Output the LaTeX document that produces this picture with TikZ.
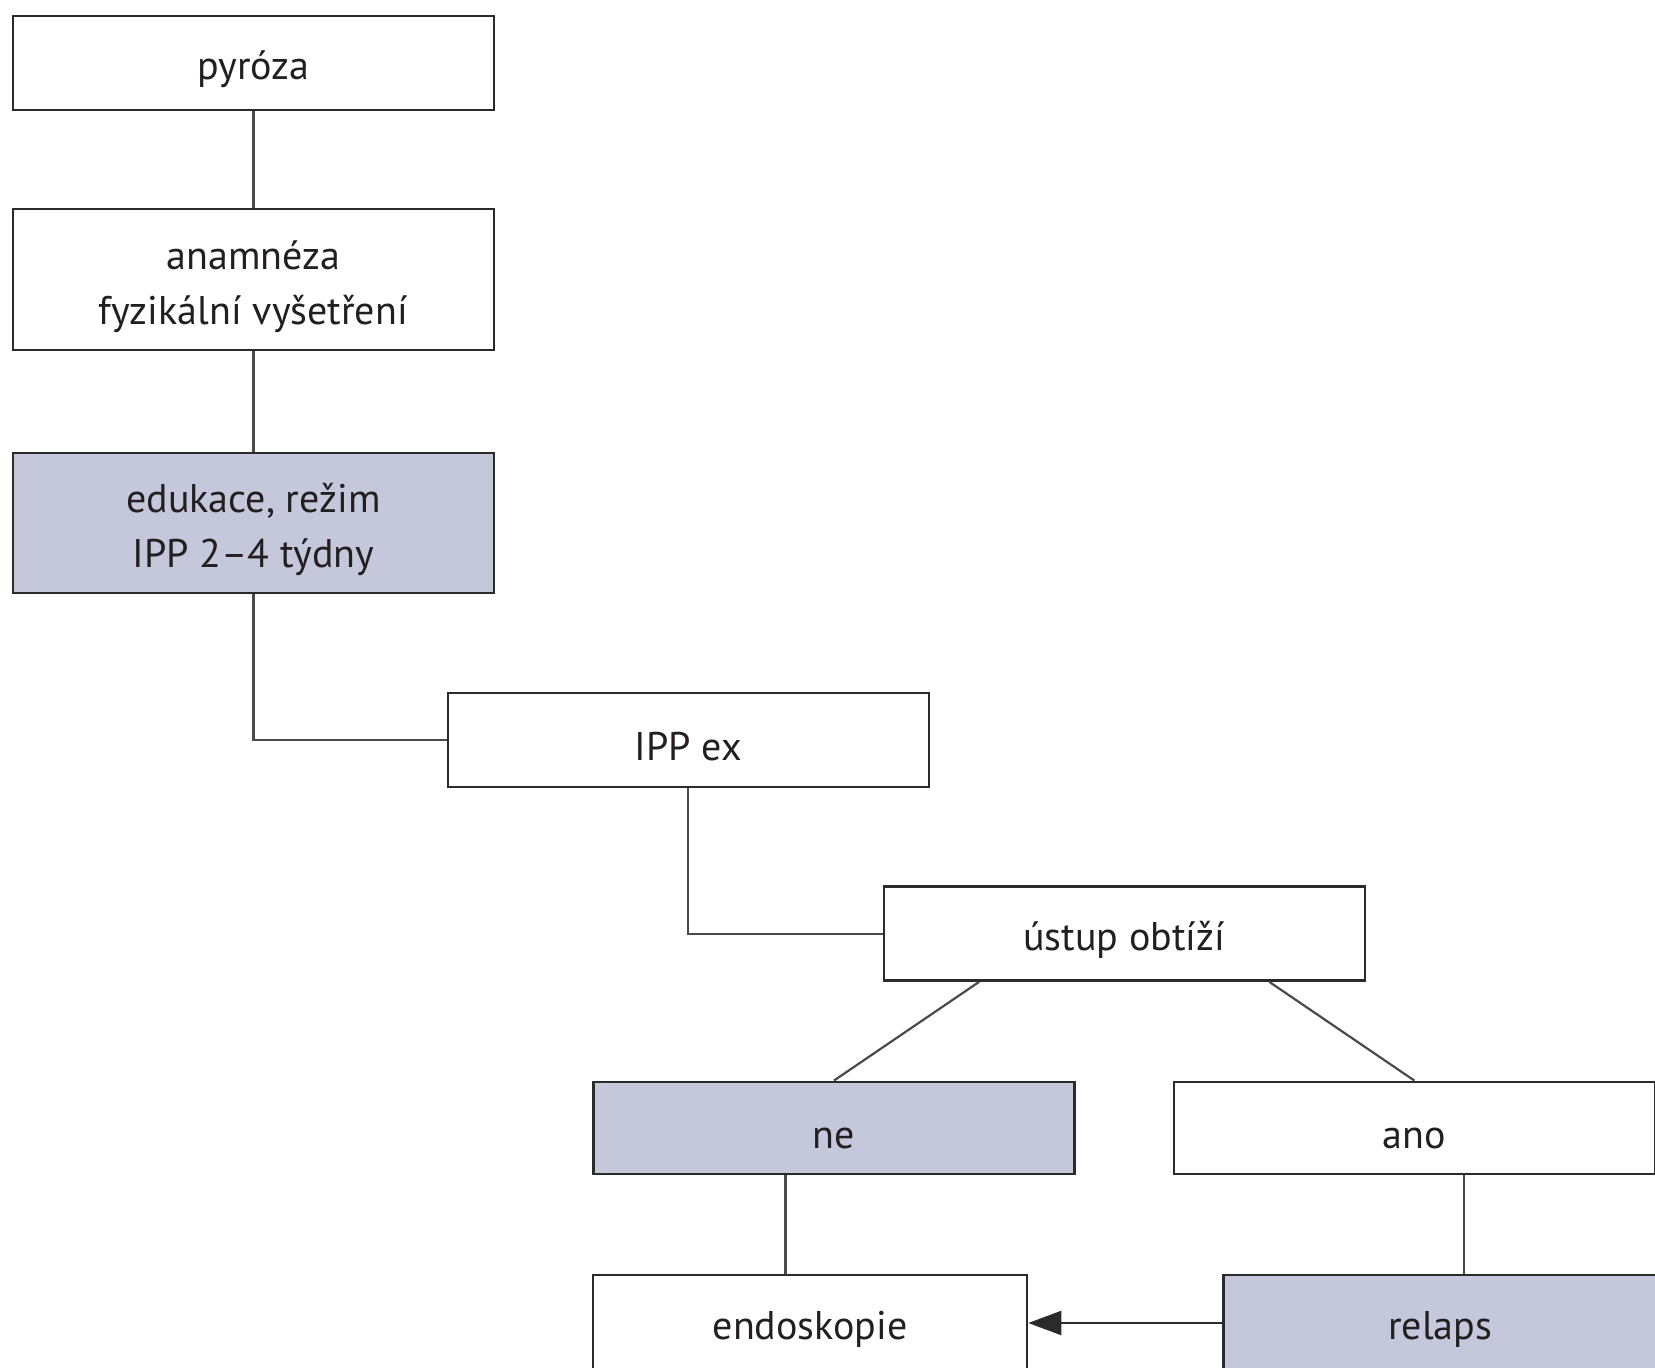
\documentclass[tikz,border=0pt]{standalone}
\usepackage{fontspec}
\setmainfont{PT Sans}
\usetikzlibrary{calc,arrows.meta}
\definecolor{boxline}{HTML}{2B2B2B}
\definecolor{linkline}{HTML}{4A4A4A}
\definecolor{lav}{HTML}{C5C8DB}
\definecolor{ink}{HTML}{231F20}
% tall strut that pushes the first text line down inside a box
\newcommand{\topgap}{\rule{0pt}{43pt}}
\begin{document}
\begin{tikzpicture}[x=1pt,y=-1pt,
  box/.style={draw=boxline,line width=2.4pt,fill=white,minimum width=481pt,
    minimum height=94pt,inner sep=0pt,align=center,text=ink,
    font=\fontsize{40}{55}\selectfont,
    execute at begin node={\rule{0pt}{41pt}}},
  shaded/.style={box,fill=lav},
  link/.style={draw=linkline,line width=2.2pt},
  arrowlink/.style={draw=boxline,line width=2.2pt,-{Triangle[length=33pt,width=24pt]}}]
\useasboundingbox (0,0) rectangle (1655,1368);
\fill[white] (0,0) rectangle (1655,1368);

% left column
\node[box] (pyr) at (253.4,62.8) {pyróza};
\node[box,minimum height=141pt] (anam) at (253.4,279.7) {\topgap anamnéza\\fyzikální vyšetření};
\node[shaded,minimum height=140pt] (edu) at (253.4,523) {\topgap edukace, režim\\IPP 2–4 týdny};

% staircase
\node[box] (ipp) at (688.2,740) {IPP ex};
\node[box] (ust) at (1124.2,933.6) {ústup obtíží};

% outcomes
\node[shaded,minimum height=92pt] (ne) at (833.9,1127.8) {ne};
\node[box,minimum height=92pt] (ano) at (1414.4,1127.8) {ano};
\node[box,minimum width=434pt,minimum height=96pt] (endo) at (810.1,1323) {endoskopie};
\node[shaded,minimum width=434pt,minimum height=96pt] (rel) at (1440.3,1323) {relaps};

% connectors
\draw[link] (pyr.south) -- (anam.north);
\draw[link] (anam.south) -- (edu.north);
\draw[link] (edu.south) |- (ipp.west);
\draw[link] (ipp.south) |- (ust.west);
\draw[link] ($(ust.south west)!0.2!(ust.south east)$) -- (ne.north);
\draw[link] ($(ust.south west)!0.8!(ust.south east)$) -- (ano.north);
\coordinate (nefoot) at ($(ne.south west)!0.4!(ne.south east)$);
\draw[link] (nefoot) -- (nefoot |- endo.north);
\coordinate (anofoot) at ($(ano.south west)!0.603!(ano.south east)$);
\draw[link] (anofoot) -- (anofoot |- rel.north);
\draw[arrowlink] (rel.west) -- (endo.east);
\end{tikzpicture}
\end{document}
